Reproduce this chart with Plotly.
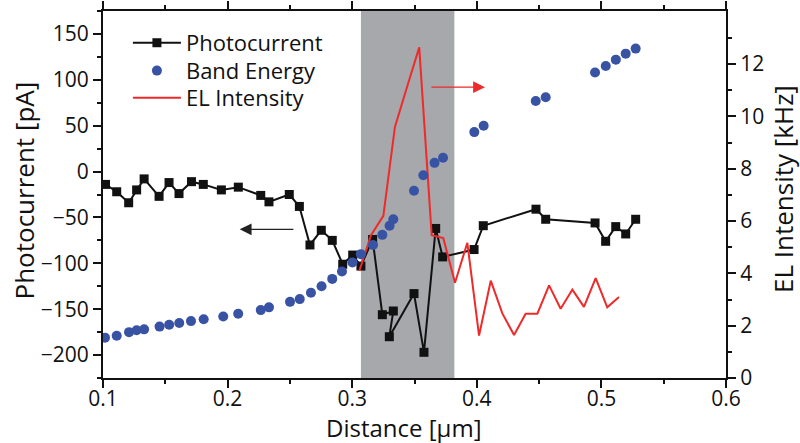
import plotly.graph_objects as go

# Photocurrent profile (left axis, pA)
pc_x = [0.102, 0.111, 0.1206, 0.127, 0.133, 0.145, 0.153, 0.161, 0.171, 0.1805,
        0.195, 0.2086, 0.2266, 0.2332, 0.2495, 0.2576, 0.2661, 0.2752, 0.284, 0.2924,
        0.3004, 0.307, 0.3164, 0.3242, 0.333, 0.3298, 0.3496, 0.3576, 0.367, 0.3726,
        0.3978, 0.4052, 0.4475, 0.4553, 0.4949, 0.5034, 0.5115, 0.5195, 0.5275]
pc_y = [-14, -22, -34, -20, -8, -27, -12, -24, -11, -14,
        -20, -17, -26, -33, -25, -38, -80, -64, -75, -101,
        -91, -103, -74, -156, -152, -180, -133, -197, -62, -93,
        -85, -59, -41, -52, -56, -76, -60, -68, -52]

# Band energy (relative scale, no axis of its own)
be_x = [0.1016, 0.111, 0.1209, 0.127, 0.133, 0.1454, 0.1531, 0.1612, 0.1706, 0.1808,
        0.1965, 0.2085, 0.2266, 0.2332, 0.2501, 0.2579, 0.2669, 0.2754, 0.284, 0.2918,
        0.3002, 0.3069, 0.3167, 0.3242, 0.33, 0.333, 0.3496, 0.3571, 0.3661, 0.3729,
        0.398, 0.4055, 0.4473, 0.4553, 0.4949, 0.5035, 0.5116, 0.5195, 0.5275]
be_y = [-181, -179, -175, -173, -172, -169, -167, -165, -163, -161,
        -158, -155, -151, -148, -142, -139, -132, -125, -117, -109,
        -99, -90, -80, -69, -59, -52, -21, -4, 9.5, 15,
        43, 50, 77, 81, 108, 115, 122, 128.5, 134]

# Electroluminescence intensity (right axis, kHz)
el_x = [0.3057, 0.3151, 0.325, 0.3343, 0.3437, 0.3538, 0.3638, 0.3731, 0.3825, 0.3924,
        0.4018, 0.4112, 0.4205, 0.4299, 0.4392, 0.4486, 0.458, 0.4673, 0.4767, 0.486,
        0.4954, 0.5047, 0.5141]
el_y = [4.09, 5.46, 6.2, 9.6, 11.08, 12.64, 5.46, 5.35, 3.64, 5.17,
        1.62, 3.72, 2.47, 1.64, 2.46, 2.46, 3.54, 2.65, 3.38, 2.72,
        3.82, 2.7, 3.1]

# Emission zone
zone = [0.307, 0.382]

FONT = "Open Sans"
BLACK = "#111111"
RED = "#ee2a2a"
BLUE = "#3953a4"

fig = go.Figure()

fig.add_trace(go.Scatter(
    x=pc_x, y=pc_y, name="Photocurrent", mode="lines+markers",
    line=dict(color=BLACK, width=2),
    marker=dict(symbol="square", size=9, color=BLACK),
    yaxis="y", legend="legend"))

fig.add_trace(go.Scatter(
    x=be_x, y=be_y, name="Band Energy", mode="markers",
    marker=dict(symbol="circle", size=10, color=BLUE),
    yaxis="y3", legend="legend2"))

fig.add_trace(go.Scatter(
    x=el_x, y=el_y, name="EL Intensity", mode="lines",
    line=dict(color=RED, width=2),
    yaxis="y2", legend="legend3"))

fig.add_shape(type="rect", xref="x", yref="paper",
              x0=zone[0], x1=zone[1], y0=0, y1=1,
              fillcolor="#a7a8ac", line=dict(width=0), layer="below")

# Direction arrows pointing to each series' axis
fig.add_annotation(x=0.2097, y=-63, ax=0.254, ay=-63, xref="x", yref="y",
                   axref="x", ayref="y", text="", showarrow=True,
                   arrowhead=2, arrowsize=1.7, arrowwidth=1.4, arrowcolor="#222222")
fig.add_annotation(x=0.4066, y=92, ax=0.3624, ay=92, xref="x", yref="y",
                   axref="x", ayref="y", text="", showarrow=True,
                   arrowhead=2, arrowsize=1.7, arrowwidth=1.4, arrowcolor=RED)

# Axis titles
title_font = dict(family=FONT, size=26, color=BLACK)
fig.add_annotation(text="Distance [µm]", xref="paper", yref="paper",
                   x=0.4823, y=-0.1349, xanchor="center", yanchor="middle",
                   showarrow=False, font=dict(family=FONT, size=24, color=BLACK))
fig.add_annotation(text="Photocurrent [pA]", xref="paper", yref="paper",
                   x=-0.1268, y=0.511, xanchor="center", yanchor="middle",
                   textangle=-90, showarrow=False, font=title_font)
fig.add_annotation(text="EL Intensity [kHz]", xref="paper", yref="paper",
                   x=1.0915, y=0.515, xanchor="center", yanchor="middle",
                   textangle=-90, showarrow=False, font=title_font)

axis_common = dict(
    showline=True, linecolor=BLACK, linewidth=2,
    ticks="outside", ticklen=8, tickwidth=1.5, tickcolor=BLACK,
    showgrid=False, zeroline=False, automargin=False,
    tickfont=dict(family=FONT, size=21, color=BLACK),
)


def legend_box(ypos):
    return dict(x=0.04, y=ypos, xanchor="left", yanchor="middle",
                bgcolor="rgba(0,0,0,0)",
                font=dict(family=FONT, size=22, color=BLACK),
                itemwidth=48)


fig.update_layout(
    width=800, height=443,
    margin=dict(l=103, r=74, t=11, b=65),
    paper_bgcolor="white", plot_bgcolor="white",
    font=dict(family=FONT, color=BLACK),
    showlegend=True,
    legend=legend_box(0.913),
    legend2=legend_box(0.837),
    legend3=legend_box(0.763),
    xaxis=dict(
        range=[0.1, 0.6], dtick=0.1, tick0=0.1, mirror="ticks",
        ticklabelstandoff=-7,
        minor=dict(dtick=0.05, ticks="outside", ticklen=4, tickwidth=1.5, tickcolor=BLACK),
        **axis_common),
    yaxis=dict(
        range=[-225, 175], tickvals=[-200, -150, -100, -50, 0, 50, 100, 150],
        minor=dict(tickvals=[-225, -175, -125, -75, -25, 25, 75, 125, 175],
                   ticks="outside", ticklen=4, tickwidth=1.5, tickcolor=BLACK),
        **axis_common),
    yaxis2=dict(
        range=[0, 14.03], overlaying="y", side="right", anchor="x",
        tickvals=[0, 2, 4, 6, 8, 10, 12],
        minor=dict(tickvals=[1, 3, 5, 7, 9, 11, 13],
                   ticks="outside", ticklen=4, tickwidth=1.5, tickcolor=BLACK),
        **axis_common),
    yaxis3=dict(range=[-225, 175], overlaying="y", visible=False),
)

fig.write_html("out.html")
